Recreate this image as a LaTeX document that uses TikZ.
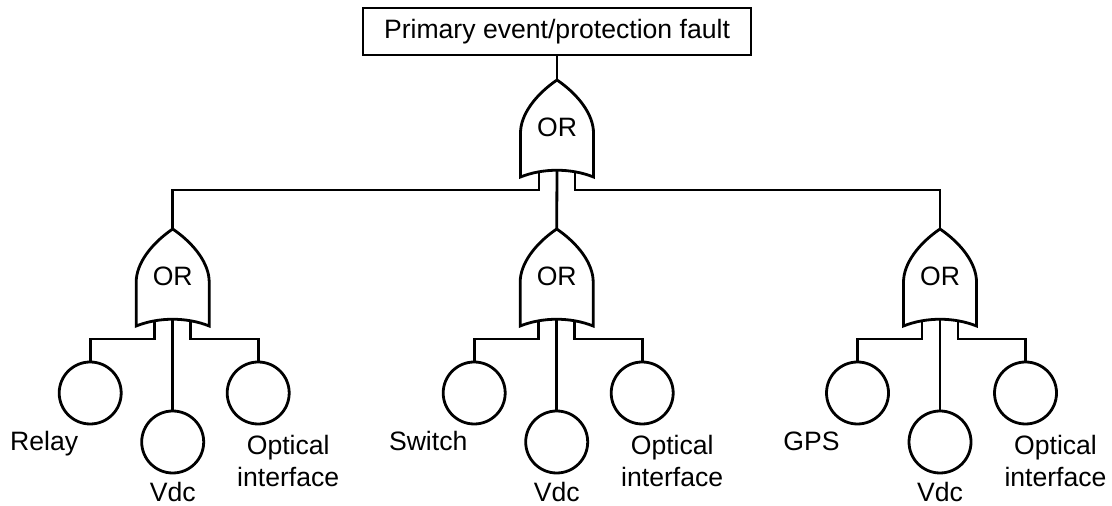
\documentclass[tikz,border=0pt]{standalone}
\usepackage{fontspec}
\setmainfont{Liberation Sans}
\usetikzlibrary{positioning}

\tikzset{
  orgate/.pic={
    \draw[fill=white] (0,0) .. controls (-22,15) and (-36.5,35) .. (-36.5,53) -- (-36.5,97)
      .. controls (-14,88) and (14,88) .. (36.5,97) -- (36.5,53)
      .. controls (36.5,35) and (22,15) .. (0,0) -- cycle;
    \node (-txt) at (0,47) {OR};
    \coordinate (-tip) at (0,0);
    \coordinate (-l) at (-18,91.5);
    \coordinate (-c) at (0,90);
    \coordinate (-r) at (18,91.5);
    \coordinate (-lb) at (-18,110);
    \coordinate (-rb) at (18,110);
  }
}

\begin{document}
\begin{tikzpicture}[x=0.5pt, y=-0.5pt, line width=1.4pt,
  every node/.style={font=\fontsize{13.3pt}{16pt}\selectfont},
  topbox/.style={draw, minimum width=194pt, minimum height=23.5pt, inner sep=0pt},
  basic/.style={draw, circle, minimum size=31pt, inner sep=0pt},
  lbl/.style={inner sep=0pt}]

  \useasboundingbox (0,0) rectangle (1112,506);

  \node[topbox] (top) at (557,31.5) {Primary event/protection fault};
  \pic (g0) at (557,80) {orgate};
  \draw (top) -- (g0-tip);

  \foreach \i/\gx/\lname in {1/172.7/Relay, 2/556.7/Switch, 3/940/GPS} {
    \pic (g\i) at (\gx,229) {orgate};
    \node[basic] (a\i) at (\gx-82.5,393) {};
    \node[basic] (b\i) at (\gx,442) {};
    \node[basic] (c\i) at (\gx+85.5,393) {};
    \node[lbl, anchor=base] (la\i) at (\gx-128.5,451) {\lname};
    \node[lbl, anchor=base] (lb\i) at (\gx,501.7) {Vdc};
    \node[lbl, anchor=north, align=center] (lc\i) at (\gx+115.5,434) {Optical\\interface};
    \draw (g\i-l) -- (g\i-lb) -| (a\i.north);
    \draw (g\i-c) -- (b\i.north);
    \draw (g\i-r) -- (g\i-rb) -| (c\i.north);
  }

  \draw (g0-l) -- (g0-lb) -| (g1-tip);
  \draw (g0-c) -- (g2-tip);
  \draw (g0-r) -- (g0-rb) -| (g3-tip);

\end{tikzpicture}
\end{document}
